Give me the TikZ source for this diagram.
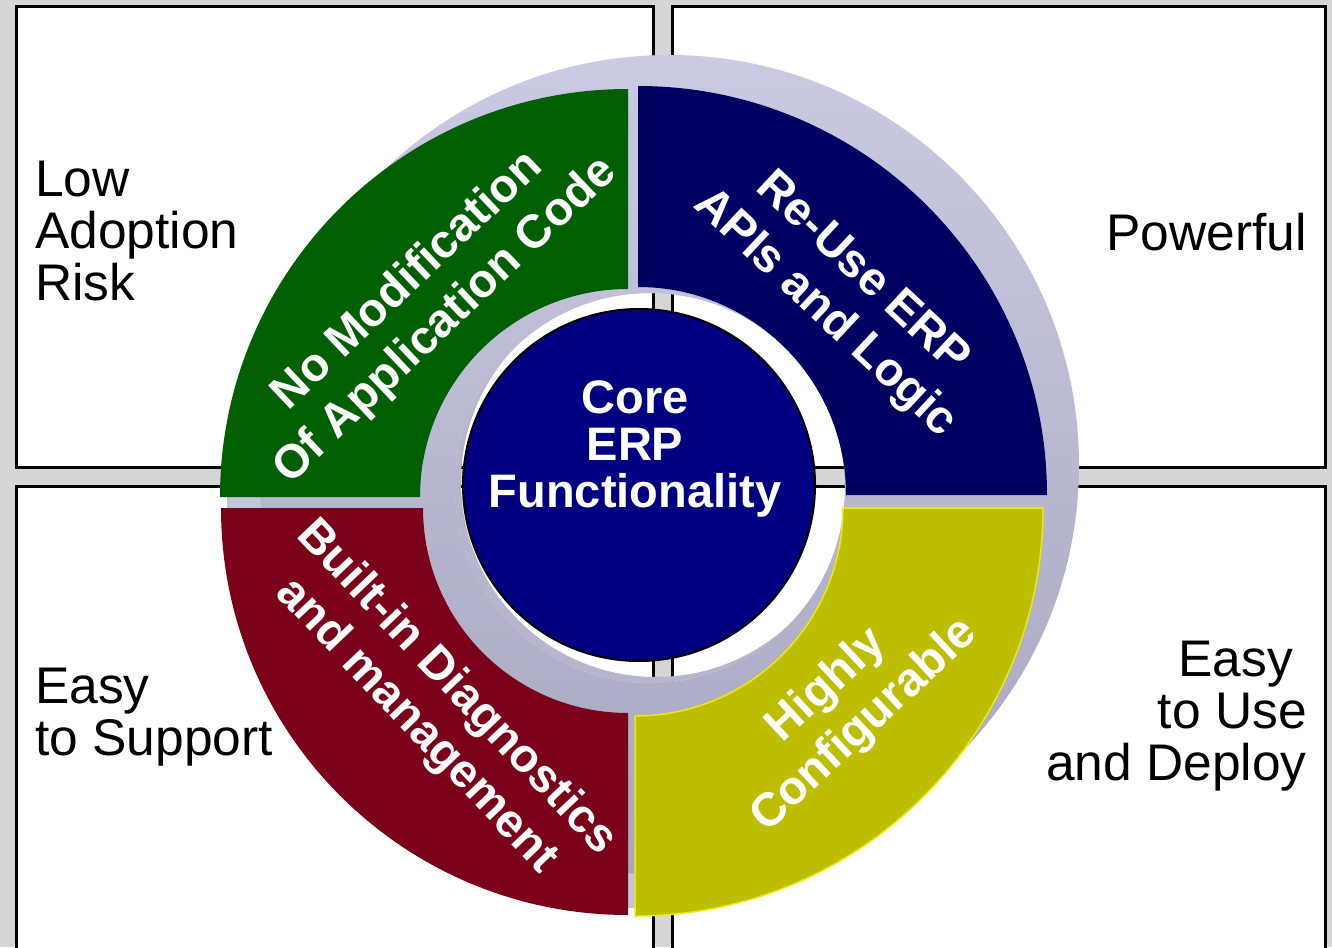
\documentclass[tikz,border=0pt]{standalone}
\usepackage{fontspec}
\setmainfont{Liberation Sans}
\begin{document}
\begin{tikzpicture}[x=1pt,y=1pt,
  boxline/.style={draw=black,line width=2.6pt,fill=white},
  boxlabel/.style={inner sep=0pt,text=black,font=\fontsize{51.5}{52}\selectfont},
  seglabel/.style={inner sep=0pt,text=white,align=center,font=\bfseries\fontsize{47}{55}\selectfont},
]
\definecolor{bggrey}{HTML}{D6D6D6}
\definecolor{lavtop}{HTML}{CACAE2}
\definecolor{lavbot}{HTML}{A6A6C0}
\definecolor{lavgap}{HTML}{C4C4DC}
\definecolor{lavin}{HTML}{B6B6CE}
\definecolor{seggreen}{HTML}{005F00}
\definecolor{segnavy}{HTML}{000062}
\definecolor{segred}{HTML}{7B001A}
\definecolor{segyellow}{HTML}{BEBE00}
\definecolor{yedge}{HTML}{EAEA10}
\definecolor{corecol}{HTML}{000080}
\useasboundingbox (0,0) rectangle (1332,-947);
\clip (0,0) rectangle (1332,-947);
% background
\fill[bggrey] (0,0) rectangle (1332,-947);
% four boxes
\draw[boxline] (16.3,-6.3) rectangle (653.7,-467.7);
\draw[boxline] (672.3,-6.3) rectangle (1325.7,-467.7);
\draw[boxline] (16.3,-486.3) rectangle (653.7,-990);
\draw[boxline] (672.3,-486.3) rectangle (1325.7,-990);
% lavender base ring (shows in the gaps between segments)
\fill[lavgap,even odd rule] (633,-502) circle[radius=406] (650,-488) circle[radius=195];
% lavender 3D ring with hole
\shade[even odd rule,top color=lavtop,bottom color=lavbot]
  (669,-465) circle[radius=410] (650,-488) circle[radius=195];
% inner wall crescent
\begin{scope}
  \clip (650,-488) circle[radius=195];
  \fill[lavin,even odd rule] (650,-488) circle[radius=196] (656,-482) circle[radius=195];
\end{scope}
% segments
\fill[seggreen] (420,-497) -- (220,-497) arc[start angle=180,end angle=90,radius=408]
  -- (628,-289) arc[start angle=90,end angle=180,radius=208] -- cycle;
\fill[segnavy] (638,-287) -- (638,-86) arc[start angle=90,end angle=0,radius=409]
  -- (846,-495) arc[start angle=0,end angle=90,radius=208] -- cycle;
\fill[segred] (423,-508) -- (221,-508) arc[start angle=180,end angle=270,radius=407]
  -- (628,-713) arc[start angle=270,end angle=180,radius=205] -- cycle;
\fill[segyellow,draw=yedge,line width=1.5pt] (635,-716) -- (635,-916) arc[start angle=270,end angle=360,radius=408]
  -- (843,-508) arc[start angle=0,end angle=-90,radius=208] -- cycle;
% core circle
\node[circle,fill=corecol,draw=black,line width=2pt,minimum size=352pt,inner sep=0pt] (corecircle) at (639,-485) {};
\node[inner sep=0pt,text=white,align=center,font=\bfseries\fontsize{47}{47}\selectfont] (coretext) at (635,-448.5) {Core\\ERP\\Functionality};
% segment labels
\node[seglabel,rotate=43.5] (tgreen) at (427,-301) {No Modification\\Of Application Code};
\node[seglabel,rotate=-43] (tnavy) at (843,-294) {Re-Use ERP\\APIs and Logic};
\node[seglabel,rotate=-46.5] (tred) at (436,-707) {Built-in Diagnostics\\and management};
\node[seglabel,rotate=43] (tyellow) at (846,-706) {Highly\\Configurable};
% box labels
\node[boxlabel,align=left,anchor=north west] (lowrisk) at (35,-161) {Low\\Adoption\\Risk};
\node[boxlabel,anchor=base east] (powerful) at (1307,-250) {Powerful};
\node[boxlabel,align=left,anchor=north west] (support) at (35,-668) {Easy\\to Support};
\node[boxlabel,align=right,anchor=north east] (deploy) at (1307,-641) {Easy\hspace*{14pt}\\to Use\\and Deploy};
\end{tikzpicture}
\end{document}
